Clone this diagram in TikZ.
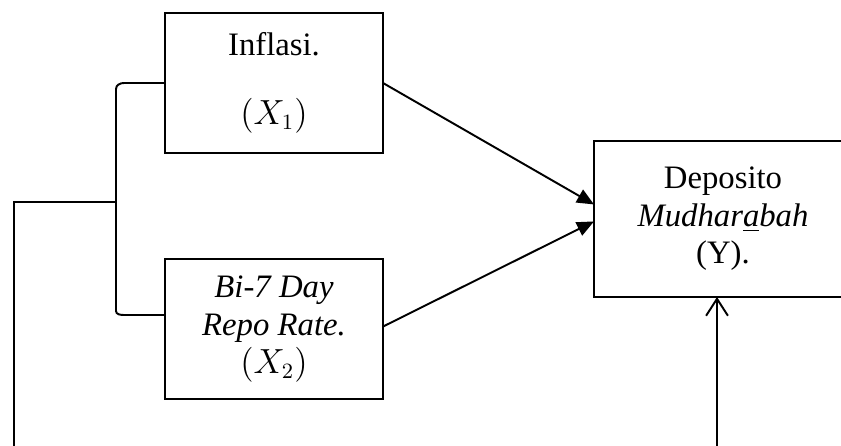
\documentclass[tikz,border=0pt]{standalone}
\usepackage{fontspec}
\setmainfont{Liberation Serif}
\usepackage{tikz}
\usetikzlibrary{arrows.meta,calc}

\begin{document}
\begin{tikzpicture}[x=0.0145cm,y=-0.0145cm,line width=0.8pt]
  \useasboundingbox (0,0) rectangle (841,446);
  \clip (0,0) rectangle (841,446);
  \tikzstyle{var}=[draw,rectangle,line width=0.9pt,inner sep=2pt,outer sep=0pt,align=center,font=\fontsize{13.5}{15.5}\selectfont]
  \tikzstyle{fill tip}=[-{Triangle[length=7pt,width=6pt]}]
  \tikzstyle{open tip}=[-{Straight Barb[length=7pt,width=9pt]}]
    \node[var,minimum width=218*0.0145cm,minimum height=140*0.0145cm] (infl) at (274,83) {Inflasi.\\[13pt]$(X_1)$};
    \node[var,minimum width=218*0.0145cm,minimum height=140*0.0145cm] (repo) at (274,329) {\textit{Bi-7 Day}\\\textit{Repo Rate.}\\$(X_2)$};
    \node[var,minimum width=258*0.0145cm,minimum height=156*0.0145cm] (depo) at (723,219) {Deposito\\\textit{Mudhar\underline{a}bah}\\(Y).};
    \coordinate (brtop) at (116,89);
    \coordinate (brbot) at (116,311);
    \coordinate (brmid) at (116,202);
    \coordinate (lowl) at (14,446);
    \coordinate (lowr) at (717,446);
    \draw (infl.west) -- (124,83) to[out=180,in=90] (brtop) -- (brbot) to[out=-90,in=180] (124,315) -- (165,315);
    \draw (brmid) -| (lowl);
    \draw[fill tip] (infl.east) -- ([yshift=6pt]depo.west);
    \draw[fill tip] ([yshift=1pt]repo.east) -- ([yshift=-1pt]depo.west);
    \draw[open tip] (lowr) -- (lowr |- depo.south);
\end{tikzpicture}
\end{document}
